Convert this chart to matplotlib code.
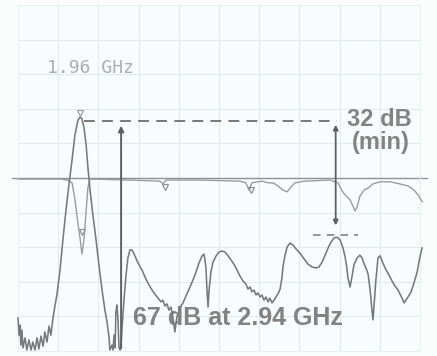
import numpy as np
import matplotlib.pyplot as plt

# frequency axis (GHz) and level (dB)
f_start, f_stop = 1.72, 3.26
db_top, db_bottom = 0, -100
ref_db = -50

# transmission trace
s21_f = [1.720, 1.724, 1.728, 1.731, 1.735, 1.739, 1.747, 1.754, 1.762, 1.770,
         1.777, 1.785, 1.793, 1.800, 1.808, 1.816, 1.823, 1.831, 1.839, 1.846,
         1.854, 1.862, 1.869, 1.881, 1.892, 1.904, 1.915, 1.927, 1.938, 1.950,
         1.958, 1.965, 1.973, 1.981, 1.988, 1.996, 2.007, 2.019, 2.030, 2.042,
         2.053, 2.061, 2.069, 2.072, 2.080, 2.084, 2.088, 2.092, 2.095, 2.099,
         2.103, 2.107, 2.111, 2.115, 2.118, 2.126, 2.134, 2.141, 2.149, 2.157,
         2.168, 2.180, 2.195, 2.210, 2.226, 2.241, 2.256, 2.268, 2.275, 2.283,
         2.291, 2.298, 2.306, 2.314, 2.321, 2.329, 2.337, 2.344, 2.352, 2.360,
         2.367, 2.379, 2.390, 2.402, 2.413, 2.425, 2.433, 2.440, 2.444, 2.448,
         2.452, 2.459, 2.467, 2.479, 2.490, 2.502, 2.513, 2.525, 2.536, 2.547,
         2.559, 2.570, 2.582, 2.593, 2.601, 2.609, 2.616, 2.624, 2.632, 2.639,
         2.647, 2.655, 2.662, 2.670, 2.678, 2.685, 2.693, 2.701, 2.708, 2.716,
         2.724, 2.731, 2.735, 2.743, 2.751, 2.762, 2.774, 2.785, 2.800, 2.816,
         2.831, 2.846, 2.862, 2.873, 2.885, 2.896, 2.908, 2.919, 2.931, 2.942,
         2.954, 2.965, 2.973, 2.980, 2.984, 2.992, 3.000, 3.007, 3.019, 3.030,
         3.038, 3.046, 3.053, 3.061, 3.069, 3.076, 3.080, 3.084, 3.091, 3.099,
         3.107, 3.118, 3.130, 3.141, 3.153, 3.164, 3.176, 3.183, 3.191, 3.199,
         3.206, 3.214, 3.226, 3.237, 3.249, 3.256, 3.264, 3.268]
s21_db = [-90.5, -95.4, -92.5, -98.3, -93.9, -99.1, -96.2, -99.7, -96.8, -99.7,
          -97.4, -99.7, -96.2, -99.4, -95.7, -98.6, -94.5, -97.4, -92.8, -95.4,
          -90.5, -86.7, -83.8, -76.6, -67.9, -59.2, -52.0, -44.8, -37.6, -33.2,
          -32.4, -32.9, -35.5, -40.5, -47.1, -53.5, -60.7, -67.9, -75.1, -82.4,
          -88.2, -91.6, -96.2, -99.7, -98.3, -99.7, -95.4, -99.1, -88.7, -86.7,
          -91.0, -99.1, -99.7, -98.3, -93.9, -85.3, -78.0, -73.1, -70.8, -70.8,
          -72.5, -74.6, -76.6, -79.2, -81.5, -83.2, -84.7, -85.8, -85.3, -87.0,
          -86.4, -88.2, -87.3, -90.5, -94.5, -89.9, -88.7, -87.0, -86.1, -84.7,
          -83.5, -81.5, -79.5, -77.2, -74.6, -72.5, -72.0, -76.0, -82.4, -87.3,
          -82.4, -77.2, -74.3, -72.5, -71.4, -71.1, -71.4, -72.5, -73.7, -74.9,
          -76.6, -78.3, -79.8, -80.6, -82.1, -81.5, -82.9, -82.4, -83.8, -83.2,
          -84.4, -83.8, -85.3, -84.4, -85.8, -84.7, -86.1, -85.3, -84.4, -83.5,
          -82.1, -78.9, -75.7, -72.3, -69.9, -68.8, -69.4, -70.5, -71.7, -73.4,
          -74.9, -75.7, -76.0, -75.7, -74.3, -72.3, -70.2, -68.5, -67.3, -67.1,
          -67.9, -70.2, -72.8, -76.0, -78.9, -81.5, -78.3, -75.1, -73.1, -72.3,
          -73.1, -74.9, -76.0, -77.7, -82.4, -88.2, -91.0, -86.7, -79.5, -73.1,
          -72.5, -74.6, -76.6, -78.0, -79.8, -81.2, -82.4, -83.5, -84.7, -86.1,
          -85.3, -84.4, -82.9, -80.3, -77.2, -74.3, -71.4, -70.2]

# reflection trace
s11_f = [1.720, 1.881, 1.911, 1.927, 1.938, 1.950, 1.958, 1.965, 1.973, 1.981,
         1.988, 1.996, 2.149, 2.264, 2.275, 2.287, 2.417, 2.570, 2.593, 2.605,
         2.616, 2.655, 2.678, 2.697, 2.716, 2.735, 2.751, 2.766, 2.781, 2.819,
         2.915, 2.946, 2.961, 2.977, 2.992, 3.003, 3.011, 3.019, 3.030, 3.046,
         3.061, 3.080, 3.107, 3.145, 3.183, 3.214, 3.237, 3.256, 3.268]
s11_db = [-50.3, -50.3, -50.6, -51.4, -56.1, -63.3, -67.6, -72.0, -67.6, -59.5,
          -52.6, -50.3, -50.6, -50.9, -51.7, -50.6, -50.6, -50.9, -51.4, -53.5,
          -51.4, -50.9, -51.4, -51.4, -52.3, -53.5, -54.0, -52.6, -51.4, -50.9,
          -50.6, -51.4, -53.7, -55.2, -56.3, -58.1, -59.5, -58.4, -55.2, -53.5,
          -52.9, -51.7, -51.1, -51.1, -51.7, -52.3, -53.5, -55.2, -56.9]

# marker readouts
mk_s21_f = [1.958]
mk_s21_db = [-31.2]
mk_s11_f = [1.965, 2.283, 2.612]
mk_s11_db = [-65.5, -52.6, -53.4]

spec_db = -33.5          # 32 dB (min) reference level
spec_low_db = -64.5
f_mark = 2.94
f_arrow_left = 2.115

fig = plt.figure(figsize=(4.37, 3.56), dpi=100)
fig.patch.set_facecolor('#fbfdfd')
ax = fig.add_axes([18 / 437, 5 / 356, 402 / 437, 346 / 356])
ax.set_facecolor('#f9fcfc')
ax.set_xlim(f_start, f_stop)
ax.set_ylim(db_bottom, db_top)
ax.set_xticks(np.linspace(f_start, f_stop, 11))
ax.set_yticks(np.arange(db_bottom, db_top + 1, 10))
ax.grid(True, color='#e4eaea', lw=0.8)
ax.tick_params(length=0, labelbottom=False, labelleft=False)
for s in ax.spines.values():
    s.set_color('#eaefef')
    s.set_linewidth(0.8)

ax.axhline(ref_db, xmin=-0.015, xmax=1.017, color='#8e9292', lw=1.0, clip_on=False, zorder=2)

ax.plot(s11_f, s11_db, color='#9a9d9d', lw=1.0, clip_on=False, zorder=3)
ax.plot(s21_f, s21_db, color='#777a7a', lw=1.15, clip_on=False, zorder=4)

ax.plot(mk_s21_f, mk_s21_db, 'v', ms=5, mfc='none', mec='#a0a0a0', mew=0.9, zorder=5)
ax.plot(mk_s11_f, mk_s11_db, 'v', ms=4.5, mfc='none', mec='#909090', mew=0.9, zorder=5)

# spec lines and arrows
ax.plot([1.973, 2.942], [spec_db, spec_db], color='#6e6e6e', lw=1.3, ls=(0, (6, 4)), zorder=5)
ax.plot([2.850, 3.022], [-66.5, -66.5], color='#7a7a7a', lw=1.1, ls=(0, (5, 4)), zorder=5)
ax.annotate('', xy=(f_arrow_left, spec_db - 0.6), xytext=(f_arrow_left, db_bottom),
            arrowprops=dict(arrowstyle='-|>', color='#5e5e5e', lw=1.4, mutation_scale=8),
            zorder=5)
ax.annotate('', xy=(f_mark - 0.003, spec_low_db), xytext=(f_mark - 0.003, spec_db - 0.3),
            arrowprops=dict(arrowstyle='<|-|>', color='#5e5e5e', lw=1.3, mutation_scale=7),
            zorder=5)

ax.text(1.831, -18.2, '1.96 GHz', family='DejaVu Sans Mono', fontsize=13,
        color='#abafaf', ha='left', va='center')
ax.text(3.105, -33.0, '32 dB', family='Liberation Sans', fontweight='bold',
        fontsize=17, color='#838383', ha='center', va='center')
ax.text(3.110, -39.6, '(min)', family='Liberation Sans', fontweight='bold',
        fontsize=17, color='#838383', ha='center', va='center')
ax.text(2.161, -90.5, '67 dB at 2.94 GHz', family='Liberation Sans', fontweight='bold',
        fontsize=18, color='#828282', ha='left', va='center', zorder=3.5)

fig.savefig('out.png', dpi=100, facecolor=fig.get_facecolor())
